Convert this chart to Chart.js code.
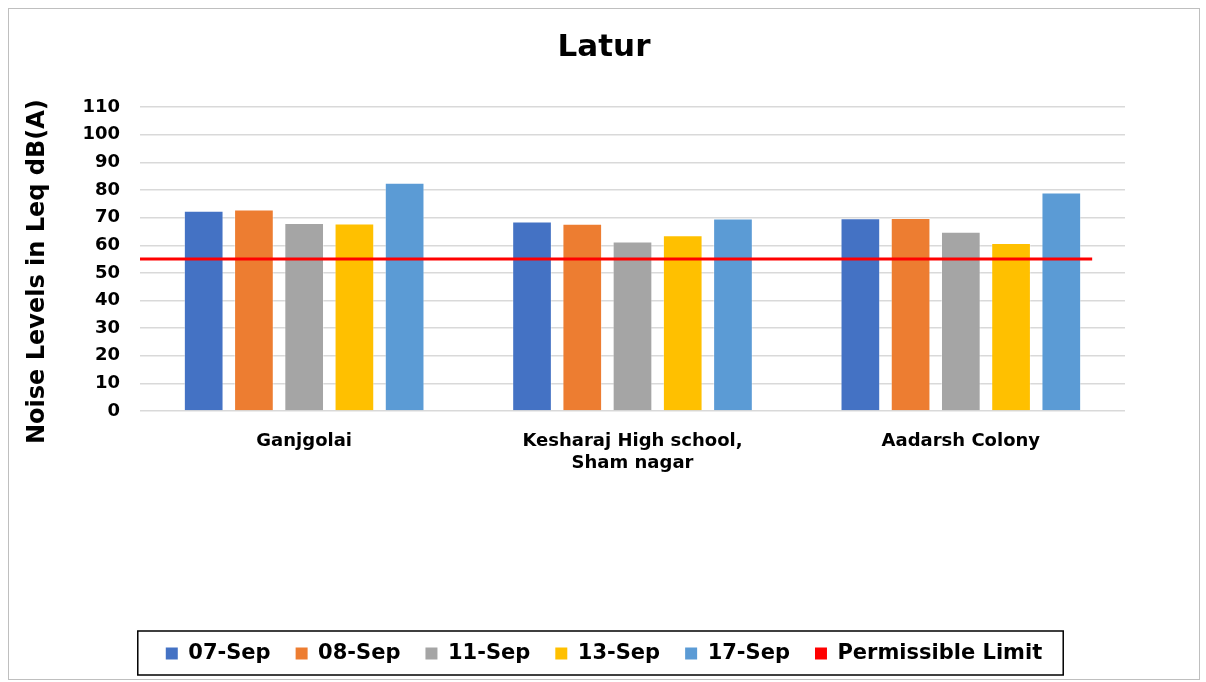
<!DOCTYPE html>
<html>
<head>
<meta charset="utf-8">
<script src="https://cdn.jsdelivr.net/npm/chart.js@4.4.1/dist/chart.umd.min.js"></script>
<style>
  html, body { margin: 0; padding: 0; background: #ffffff; }
  #frame { position: absolute; left: 8px; top: 8px; width: 1192px; height: 672px; box-sizing: border-box; border: 1px solid #bfbfbf; background: #fff; }
  #c { display: block; }
</style>
</head>
<body>
<div id="frame"><canvas id="c" width="1190" height="670"></canvas></div>
<script>
const categories = ["Ganjgolai", ["Kesharaj High school,", "Sham nagar"], "Aadarsh Colony"];
const seriesNames = ["07-Sep", "08-Sep", "11-Sep", "13-Sep", "17-Sep"];
const sep07 = [72.5, 68.6, 69.8];
const sep08 = [73.0, 67.8, 69.9];
const sep11 = [68.1, 61.4, 64.9];
const sep13 = [67.9, 63.6, 60.8];
const sep17 = [82.6, 69.7, 79.1];
const limitName = "Permissible Limit";
const limitValue = 55;
const limitSpan = [-0.5, 2.4];   // span of the limit line in category-axis units
const yTicks = [0, 10, 20, 30, 40, 50, 60, 70, 80, 90, 100, 110];
const colors = ["#4472C4", "#ED7D31", "#A5A5A5", "#FFC000", "#5B9BD5"];
const limitColor = "#FF0000";

const FONT = "'DejaVu Sans', Verdana, sans-serif";
const seriesData = [sep07, sep08, sep11, sep13, sep17];

const datasets = seriesData.map((d, i) => ({
  type: 'bar',
  label: seriesNames[i],
  data: d,
  backgroundColor: colors[i],
  borderColor: 'rgba(255,255,255,0.35)',
  borderWidth: 1,
  categoryPercentage: 0.765,
  barPercentage: 0.79
}));

// Permissible-limit line, positioned through the chart's own scales
const limitLine = {
  id: 'limitLine',
  afterDatasetsDraw(chart) {
    const x = chart.scales.x, y = chart.scales.y;
    const py = y.getPixelForValue(limitValue);
    const ctx = chart.ctx;
    ctx.save();
    ctx.strokeStyle = limitColor;
    ctx.lineWidth = 3;
    ctx.beginPath();
    ctx.moveTo(x.getPixelForValue(limitSpan[0]), py);
    ctx.lineTo(x.getPixelForValue(limitSpan[1]), py);
    ctx.stroke();
    ctx.restore();
  }
};

const legendBorder = {
  id: 'legendBorder',
  afterDraw(chart) {
    const boxes = chart.legend.legendHitBoxes;
    if (!boxes || !boxes.length) return;
    let l = Infinity, r = -Infinity, t = Infinity, b = -Infinity;
    boxes.forEach(h => { l = Math.min(l, h.left); r = Math.max(r, h.left + h.width); t = Math.min(t, h.top); b = Math.max(b, h.top + h.height); });
    const ctx = chart.ctx;
    ctx.save();
    ctx.strokeStyle = '#000';
    ctx.lineWidth = 1.5;
    ctx.strokeRect(l - 28, t - 12, (r - l) + 49, (b - t) + 23);
    ctx.restore();
  }
};

new Chart(document.getElementById('c'), {
  type: 'bar',
  data: { labels: categories, datasets: datasets },
  options: {
    responsive: false,
    animation: false,
    layout: { padding: { left: 0, right: 0, top: 0, bottom: 5 } },
    plugins: {
      title: {
        display: true, text: 'Latur', color: '#000',
        font: { family: FONT, size: 31, weight: 'bold' },
        padding: { top: 20, bottom: 41 }
      },
      legend: {
        position: 'bottom',
        labels: {
          color: '#000',
          font: { family: FONT, size: 21, weight: 'bold' },
          boxWidth: 12, boxHeight: 12, padding: 25,
          generateLabels(chart) {
            const items = chart.data.datasets.map((ds, i) => ({
              text: ds.label,
              fillStyle: ds.backgroundColor,
              strokeStyle: 'rgba(0,0,0,0)',
              lineWidth: 0,
              hidden: false,
              datasetIndex: i,
              fontColor: '#000'
            }));
            items.push({ text: limitName, fillStyle: limitColor, strokeStyle: 'rgba(0,0,0,0)', lineWidth: 0, hidden: false, fontColor: '#000' });
            return items;
          }
        }
      },
      tooltip: { enabled: false }
    },
    scales: {
      x: {
        grid: { display: false, drawTicks: false },
        border: { display: false },
        ticks: { color: '#000', font: { family: FONT, size: 18, weight: 'bold' }, padding: 20, maxRotation: 0, autoSkip: false },
        afterFit(scale) { scale.height = 207; }
      },
      y: {
        min: 0, max: 110,
        afterBuildTicks(scale) { scale.ticks = yTicks.map(v => ({ value: v })); },
        grid: { color: '#d9d9d9', lineWidth: 1.5, drawTicks: false },
        border: { display: false },
        ticks: { color: '#000', font: { family: FONT, size: 18, weight: 'bold' }, padding: 20 },
        title: {
          display: true, text: 'Noise Levels in Leq dB(A)   ', color: '#000',
          font: { family: FONT, size: 24, weight: 'bold' }, padding: { top: 14, bottom: 0 }
        },
        afterFit(scale) { scale.width = 131; }
      },
      yRight: {
        type: 'linear', position: 'right', min: 0, max: 110,
        grid: { display: false, drawTicks: false },
        border: { display: false },
        ticks: { display: false },
        afterFit(scale) { scale.width = 74; }
      }
    }
  },
  plugins: [limitLine, legendBorder]
});
</script>
</body>
</html>
